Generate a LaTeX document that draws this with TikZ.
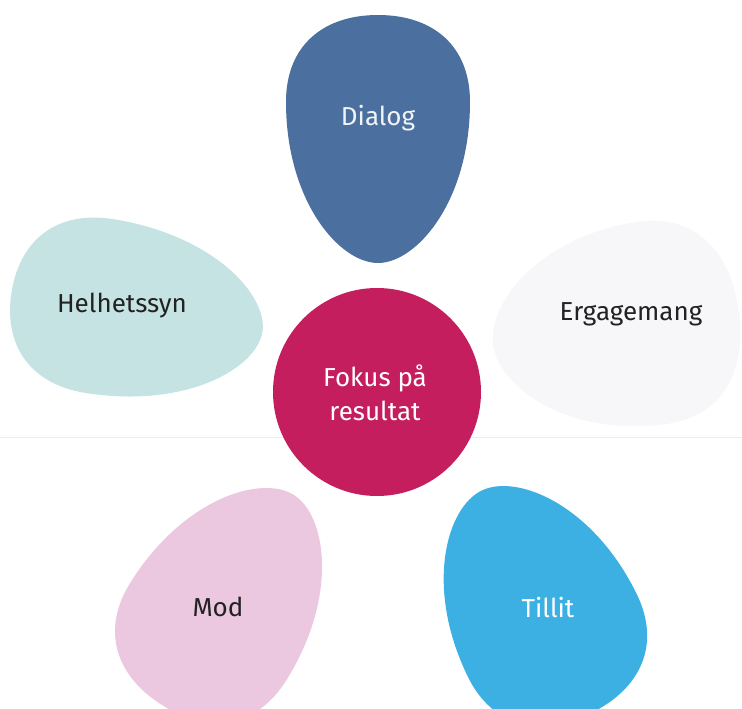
\documentclass[tikz,border=0pt]{standalone}
\usepackage{fontspec}
\setmainfont{Fira Sans}
\definecolor{dialogc}{HTML}{4B6F9E}
\definecolor{centerc}{HTML}{C41E5E}
\definecolor{helc}{HTML}{C6E3E4}
\definecolor{ergc}{HTML}{F7F7FA}
\definecolor{modc}{HTML}{ECC8E0}
\definecolor{tillc}{HTML}{3CB0E2}
\definecolor{textdark}{HTML}{222222}
\definecolor{linec}{HTML}{ECECF0}
\newcommand\petalpath{(1,0) .. controls (1,0.42) and (0.5,1) .. (-0.3,1) .. controls (-0.75,1) and (-1,0.6) .. (-1,0) .. controls (-1,-0.6) and (-0.75,-1) .. (-0.3,-1) .. controls (0.5,-1) and (1,-0.42) .. (1,0) -- cycle}
\tikzset{
  lbl/.style={font=\fontsize{26}{34}\selectfont, align=center},
}
\begin{document}
\begin{tikzpicture}[x=1pt,y=-1pt]
\useasboundingbox (0,0) rectangle (742,709);
\fill[white] (0,0) rectangle (742,709);
\clip (0,0) rectangle (742,709);
\draw[linec, line width=1pt] (0,437) -- (742,437);
% petals
\fill[ergc, shift={(616,328)}, rotate=188, xscale=124, yscale=102] \petalpath;
\fill[helc, shift={(137,312)}, rotate=-9, xscale=127, yscale=88] \petalpath;
\fill[dialogc, shift={(378,139)}, rotate=-90, xscale=124, yscale=92] \petalpath;
\fill[modc, shift={(228,600)}, rotate=58, xscale=124, yscale=92] \petalpath;
\fill[tillc, shift={(536,602)}, rotate=116, xscale=124, yscale=94] \petalpath;
% center
\fill[centerc] (377,392) circle (104);
% labels
\node[lbl, text=white!92!dialogc] (dialog) at (378,118) {Dialog};
\node[lbl, text=textdark] (hel) at (122,306) {Helhetssyn};
\node[lbl, text=textdark] (erg) at (631,314) {Ergagemang};
\node[lbl, text=white] (fokus) at (375,393) {Fokus på\\resultat};
\node[lbl, text=textdark] (mod) at (218,607) {Mod};
\node[lbl, text=white] (tillit) at (548,608) {Tillit};
\end{tikzpicture}
\end{document}
